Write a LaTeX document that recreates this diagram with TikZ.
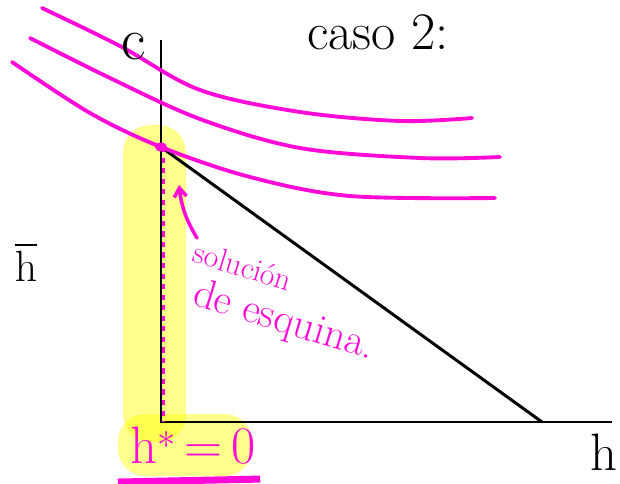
\documentclass[tikz,border=0pt]{standalone}
\usepackage{amsmath}
\usetikzlibrary{arrows.meta, calc}

\definecolor{pen}{RGB}{255,10,215}
\definecolor{marker}{RGB}{255,255,0}

\begin{document}
\begin{tikzpicture}[
    x=0.02cm, y=-0.02cm,
    axis/.style={draw=black, line width=1.7pt},
    icurve/.style={draw=pen, line width=2.2pt, line cap=round},
    highlight/.style={fill=marker, opacity=0.45, rounded corners=0.55cm},
    note/.style={text=pen, inner sep=0pt},
    ink/.style={text=black, inner sep=0pt}
]
\useasboundingbox (0,0) rectangle (620,484);

% Highlights (behind everything)
\fill[highlight] (123,125) rectangle (186,442);
\fill[highlight] (118,414) rectangle (252,476);

% Points
\coordinate (O) at (161,422);
\coordinate (ctop) at (161,40);
\coordinate (hend) at (612,422);
\coordinate (kink) at (161,147);
\coordinate (hmax) at (542,422);
\coordinate (arrowtail) at (197,238);
\coordinate (arrowtip) at (179,185);

% Axes and budget line
\draw[axis] (ctop) -- (O) -- (hend);
\draw[axis] (kink) -- (hmax);

% Indifference curves
\draw[icurve] plot[smooth, tension=0.55] coordinates {(42,8) (120,46) (200,90) (300,112) (400,121) (472,118)};
\draw[icurve] plot[smooth, tension=0.55] coordinates {(30,38) (110,78) (200,119) (300,148) (420,158) (500,157)};
\draw[icurve] plot[smooth, tension=0.55] coordinates {(12,62) (90,113) (161,147) (250,177) (350,196) (495,198)};
\fill[pen] (kink) ellipse (0.12cm and 0.09cm);

% Corner solution along the c axis
\draw[pen, dashed, line width=1.4pt] ([xshift=0.05cm]kink) -- ([xshift=0.05cm]O);
\draw[pen, line width=2pt, line cap=round, -{Straight Barb[length=5pt, width=7pt]}] (arrowtail) to[bend left=12] (arrowtip);

% Labels
\node[ink, font=\fontsize{30}{32}\selectfont] (caso) at (378,32) {caso 2:};
\node[ink, font=\fontsize{34}{36}\selectfont] (clabel) at (134,47) {c};
\node[ink, font=\fontsize{30}{32}\selectfont] (hlabel) at (604,452) {h};
\node[ink, font=\fontsize{30}{32}\selectfont] (hbar) at (26,262) {$\overline{\mathrm{h}}$};
\node[note, font=\fontsize{18}{20}\selectfont, rotate=-17] (sol) at (243,266) {solución};
\node[note, font=\fontsize{24}{26}\selectfont, rotate=-17] (esq) at (284,322) {de esquina.};
\node[note, font=\fontsize{30}{32}\selectfont] (hstar) at (193,446) {h$^{*}$\,=\,0};
\draw[pen, line width=4pt] ($(hstar.south west)+(-12,17)$) -- ($(hstar.south east)+(4,14)$);

\end{tikzpicture}
\end{document}
